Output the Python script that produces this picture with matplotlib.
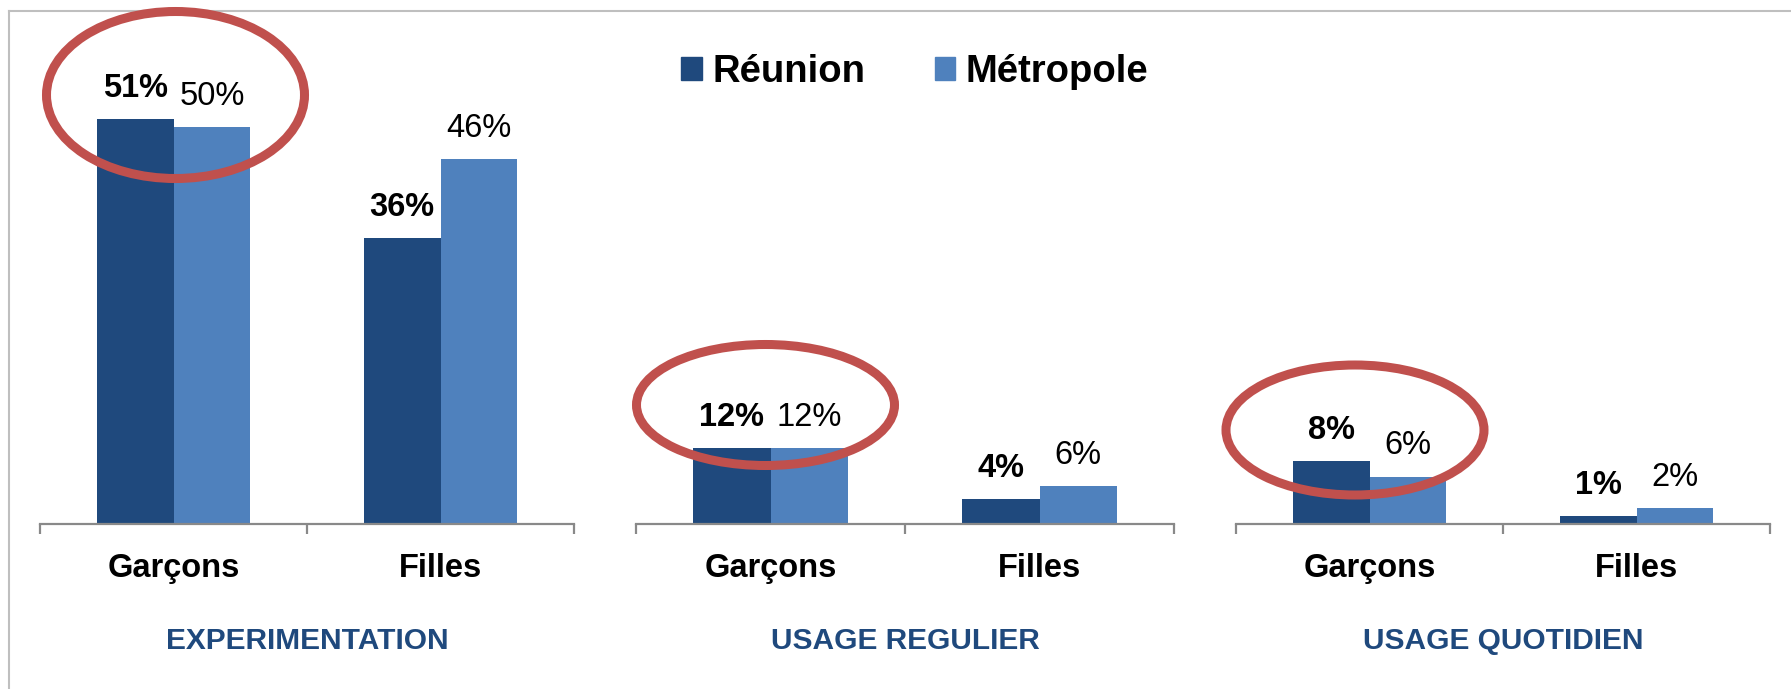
import numpy as np
import matplotlib
matplotlib.use('Agg')
from matplotlib import pyplot as plt
from matplotlib.patches import Ellipse, Rectangle
from matplotlib.lines import Line2D

# data
groups = ['EXPERIMENTATION', 'USAGE REGULIER', 'USAGE QUOTIDIEN']
categories = ['Garçons', 'Filles']
series = ['Réunion', 'Métropole']
reunion = [[51, 36], [12, 4], [8, 1]]
metropole = [[50, 46], [12, 6], [6, 2]]

c_reu = '#1F497D'
c_met = '#4F81BD'
c_axis = '#898989'
c_ring = '#C0504D'

plt.rcParams['font.family'] = ['Liberation Sans', 'DejaVu Sans']

W, H = 1791, 689
fig = plt.figure(figsize=(W / 100, H / 100), dpi=100)

def fx(px):
    return px / W

def fy(py):
    return 1 - py / H

# panel geometry in pixels: left, right, px per percent
panels = [(40, 574, 7.94), (636, 1174, 6.3), (1236, 1770, 7.9)]
base_y = 524
top_y = 100
bw = 0.288

for i, (x0, x1, ppp) in enumerate(panels):
    ax = fig.add_axes([fx(x0), fy(base_y), fx(x1 - x0), (base_y - top_y) / H])
    x = np.arange(len(categories))
    ax.bar(x - bw / 2, reunion[i], bw, color=c_reu, zorder=2)
    ax.bar(x + bw / 2, metropole[i], bw, color=c_met, zorder=2)
    ax.set_xlim(-0.5, 1.5)
    ax.set_ylim(0, (base_y - top_y) / ppp)
    for j in range(len(categories)):
        ax.annotate(f'{reunion[i][j]}%', (x[j] - bw / 2, reunion[i][j]),
                    xytext=(0, 16), textcoords='offset points',
                    ha='center', va='baseline', fontsize=23.5, fontweight='bold')
        ax.annotate(f'{metropole[i][j]}%', (x[j] + bw / 2, metropole[i][j]),
                    xytext=(0, 16), textcoords='offset points',
                    ha='center', va='baseline', fontsize=23.5)
    for s in ['top', 'right', 'left']:
        ax.spines[s].set_visible(False)
    ax.spines['bottom'].set_color(c_axis)
    ax.spines['bottom'].set_linewidth(1.6)
    ax.set_yticks([])
    ax.set_xticks(x)
    ax.set_xticklabels(categories, fontsize=23.5, fontweight='bold')
    ax.tick_params(axis='x', which='major', length=0, pad=21)
    ax.set_xticks([-0.5, 0.5, 1.5], minor=True)
    ax.tick_params(axis='x', which='minor', length=7.5, width=1.6, color=c_axis)
    ax.text(0.5, (base_y - 649) / (base_y - top_y), groups[i], transform=ax.transAxes,
            ha='center', va='baseline', fontsize=21.5, fontweight='bold', color=c_reu)
    ax.patch.set_visible(False)

# red rings
rings = [(175.5, 95, 258, 167), (765.5, 405, 258, 121), (1355, 430, 258, 130)]
for cx, cy, ew, eh in rings:
    fig.add_artist(Ellipse((fx(cx), fy(cy)), fx(ew), eh / H, transform=fig.transFigure,
                           fill=False, edgecolor=c_ring, linewidth=6.5, zorder=5))

# frame lines
fig.add_artist(Line2D([fx(9), 1], [fy(11), fy(11)], color='#BFBFBF', linewidth=1.5))
fig.add_artist(Line2D([fx(9), fx(9)], [fy(11), 0], color='#BFBFBF', linewidth=1.5))

# legend
handles = [Rectangle((0, 0), 1, 1, color=c_reu), Rectangle((0, 0), 1, 1, color=c_met)]
fig.legend(handles, series, loc='center', bbox_to_anchor=(fx(915), fy(72)), ncol=2,
           frameon=False, prop={'size': 27.5, 'weight': 'bold'},
           handlelength=0.53, handleheight=0.53, handletextpad=0.29, columnspacing=1.8)

fig.savefig('out.png', dpi=100)
